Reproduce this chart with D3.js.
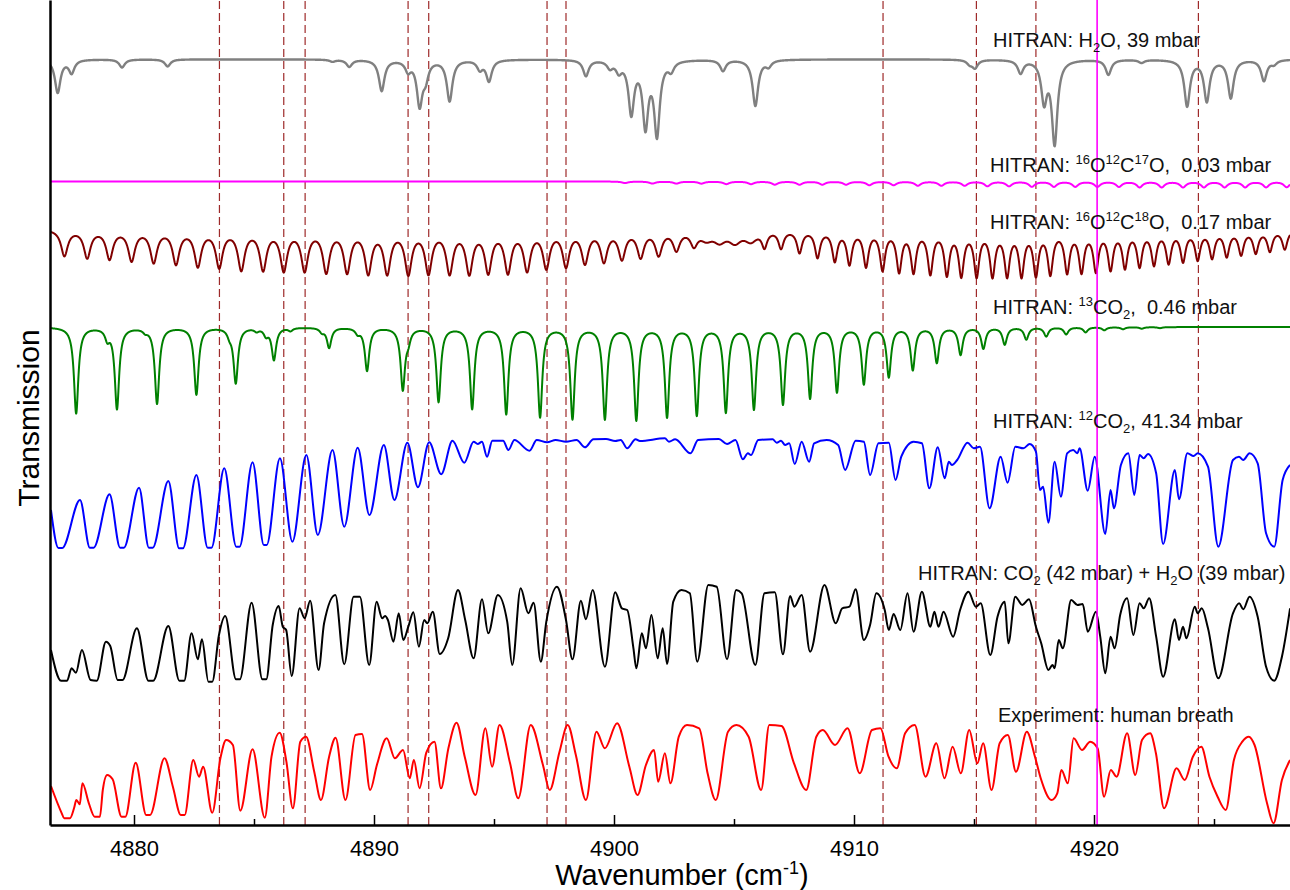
<!DOCTYPE html>
<html>
<head>
<meta charset="utf-8">
<script src="https://cdn.jsdelivr.net/npm/d3@7"></script>
<style>
  body { margin: 0; background: #fff; }
  svg { display: block; font-family: "Liberation Sans", Arial, sans-serif; }
</style>
</head>
<body>
<div id="chart"></div>
<script>
// x axis (wavenumber, cm-1)
const xDomain = [4876.5, 4928.1667];
const xTicks = [4880, 4890, 4900, 4910, 4920];
const xMinorTicks = [4885, 4895, 4905, 4915, 4925];

// marked lines
const dashedLines = [4883.56, 4886.24, 4887.13, 4891.42, 4892.28, 4897.21, 4898.00, 4911.21, 4915.10, 4917.58, 4924.35];
const markerLine = 4920.13;

// HITRAN line lists: [centre, depth, half width] (transmission, offset units)
const h2oTop = 76.57;
const h2oLines = [[4876.82,3.3],[4877.40,1.3],[4879.50,0.8],[4881.40,0.7],[4888.27,0.2],[4888.97,0.7],[4890.32,3.1],[4891.42,1.0],[4891.90,4.4],[4892.15,1.6],[4893.15,4.1],[4894.41,0.9],[4894.79,2.1],[4898.83,1.6],[4899.83,0.7],[4900.20,1.0],[4900.72,5.2],[4901.31,6.4],[4901.79,7.3],[4902.38,0.9],[4904.54,1.1],[4905.89,4.6],[4906.44,0.6],[4914.82,0.4],[4915.04,0.8],[4916.94,1.3],[4917.92,4.0],[4918.36,8.3],[4920.60,1.5],[4921.98,0.3],[4923.88,4.6],[4924.70,4.1],[4925.70,3.8],[4927.08,2.1],[4927.50,0.4]];

const o17Top = 64.35;
const o17Lines = [[4900.46,0.15],[4901.60,0.2],[4902.60,0.2],[4903.64,0.2],[4904.68,0.25],[4905.71,0.25],[4906.70,0.3],[4907.73,0.3],[4908.68,0.3],[4909.67,0.3],[4910.64,0.35],[4911.65,0.35],[4912.66,0.4],[4913.64,0.4],[4914.61,0.4],[4915.56,0.45],[4916.46,0.45],[4917.41,0.5],[4918.33,0.5],[4919.22,0.5],[4920.14,0.5],[4921.04,0.5],[4921.90,0.55],[4922.82,0.55],[4923.71,0.55],[4924.58,0.55],[4925.44,0.55],[4926.30,0.55],[4927.17,0.55],[4928.03,0.55]];

const o18Top = 59.6;
const o18Lines = [[4877.10,2.59,0.17],[4878.05,2.74,0.17],[4878.98,2.84,0.17],[4879.90,2.99,0.17],[4880.82,3.14,0.17],[4881.75,3.29,0.17],[4882.66,3.50,0.17],[4883.55,3.60,0.17],[4884.47,3.84,0.17],[4885.38,3.84,0.17],[4886.24,3.91,0.17],[4887.11,3.91,0.17],[4888.01,4.05,0.17],[4888.88,4.05,0.17],[4889.76,4.14,0.17],[4890.55,4.14,0.17],[4891.43,4.21,0.17],[4892.27,4.14,0.17],[4893.15,4.14,0.17],[4893.97,4.14,0.17],[4894.76,4.05,0.17],[4895.58,4.05,0.17],[4896.38,3.84,0.17],[4897.18,3.60,0.17],[4898.00,3.45,0.17],[4898.79,3.14,0.17],[4899.58,2.99,0.17],[4900.33,2.74,0.17],[4901.11,2.59,0.17],[4901.86,2.38,0.17],[4902.60,1.9,0.17],[4903.33,1.4,0.17],[4903.85,0.8,0.3],[4904.40,1.0,0.3],[4905.04,1.1,0.3],[4905.70,1.0,0.3],
  [4906.27,1.55,0.13],[4906.96,1.73,0.13],[4907.73,2.18,0.13],[4908.48,2.64,0.13],[4909.20,2.97,0.13],[4909.81,3.27,0.13],[4910.50,3.48,0.13],[4911.19,3.82,0.13],[4911.88,3.97,0.13],[4912.48,4.03,0.13],[4913.18,4.18,0.13],[4913.87,4.27,0.13],[4914.47,4.34,0.13],[4915.11,4.39,0.13],[4915.77,4.39,0.13],[4916.38,4.34,0.13],[4916.98,4.34,0.13],[4917.58,4.27,0.13],[4918.18,4.18,0.13],[4918.88,4.03,0.13],[4919.48,3.97,0.13],[4920.08,3.88,0.13],[4920.69,3.73,0.13],[4921.29,3.57,0.13],[4921.90,3.43,0.13],[4922.50,3.27,0.13],[4923.11,3.12,0.13],[4923.71,2.97,0.13],[4924.32,2.82,0.13],[4924.92,2.66,0.13],[4925.53,2.52,0.13],[4926.13,2.36,0.13],[4926.74,2.21,0.13],[4927.33,2.06,0.13],[4927.95,1.91,0.13]];

const c13Top = 49.8;
const c13Lines = [[4877.59,8.6],[4879.29,8.1],[4880.96,7.6],[4882.60,6.7],[4884.24,5.5],[4885.83,3.2],[4888.13,2.0],[4889.71,4.3],[4891.20,6.1],[4892.69,7.4],[4894.09,8.1],[4895.51,8.6],[4896.92,8.9],[4898.27,9.1],[4899.62,9.1],[4900.93,9.2],[4902.21,8.9],[4903.45,8.7],[4904.66,8.4],[4905.83,8.1],[4907.04,7.6],[4908.17,7.0],[4909.29,6.4],[4910.41,5.6],[4911.45,4.9],[4912.45,4.2],[4913.45,3.5],[4914.44,2.7],[4915.39,2.1],[4916.28,1.7],[4917.18,1.2],[4918.01,0.9],[4918.84,0.7],[4919.65,0.5],[4920.43,0.3],[4921.21,0.2],[4921.99,0.15],[4922.75,0.1],
  [4878.89,1.0],[4880.47,0.3],[4883.98,0.6],[4885.11,0.3],[4885.50,0.7],[4886.52,0.3],[4887.83,0.4],[4889.32,0.5],[4891.43,1.0]];

// traced spectra: [wavenumber, transmission (offset units)]
const c12Spectrum = [[4876.54,31.5],[4876.85,27.7],[4877.01,27.7],[4877.75,32.5],[4878.16,27.73],[4878.32,27.73],[4878.98,33.07],[4879.42,27.73],[4879.58,27.73],[4880.21,33.73],[4880.62,27.73],[4880.78,27.73],[4881.43,34.4],[4881.88,27.67],[4882.04,27.67],[4882.60,35.0],[4883.07,27.73],[4883.23,27.73],[4883.76,35.67],[4884.26,27.83],[4884.40,27.83],[4884.94,36.27],[4885.41,28.0],[4885.53,28.0],[4886.08,36.67],[4886.60,28.33],[4887.18,37.0],[4887.66,29.0],[4888.27,37.5],[4888.76,29.83],[4889.32,37.73],[4889.81,31.0],[4890.41,38.0],[4890.85,32.5],[4891.39,38.23],[4891.83,33.77],[4892.30,38.27],[4892.80,35.07],[4893.27,38.43],[4893.76,36.23],[4894.15,38.33],[4894.32,38.1],[4894.50,38.33],[4894.71,36.83],[4894.93,38.43],[4895.38,38.43],[4895.60,37.5],[4895.85,38.5],[4896.48,37.43],[4896.78,38.5],[4897.21,38.27],[4897.57,38.5],[4898.00,38.33],[4898.44,38.5],[4898.79,37.77],[4899.14,38.57],[4899.67,38.6],[4900.05,38.4],[4900.28,38.5],[4900.55,37.67],[4900.90,38.57],[4901.08,38.4],[4902.12,38.67],[4902.29,38.33],[4902.55,38.57],[4903.19,37.17],[4903.50,38.5],[4904.37,38.6],[4904.71,38.1],[4905.06,38.5],[4905.37,36.57],[4905.58,37.17],[4905.71,37.0],[4906.01,38.5],[4906.61,38.57],[4906.78,38.23],[4906.96,38.43],[4907.13,38.0],[4907.30,38.17],[4907.53,36.1],[4907.82,38.33],[4908.13,36.33],[4908.34,38.17],[4908.86,38.5],[4909.34,38.0],[4909.63,35.5],[4910.07,38.43],[4910.41,38.33],[4910.67,35.0],[4911.02,38.17],[4911.45,38.23],[4911.73,34.5],[4911.97,36.83],[4912.48,38.33],[4912.83,38.17],[4913.14,33.67],[4913.49,37.77],[4913.78,34.67],[4913.95,36.33],[4914.08,36.0],[4914.30,36.5],[4914.73,38.23],[4914.99,37.67],[4915.25,37.83],[4915.65,31.67],[4916.11,36.83],[4916.40,34.23],[4916.72,37.83],[4917.06,37.67],[4917.32,38.1],[4917.58,37.33],[4917.75,33.5],[4917.88,33.83],[4918.10,30.23],[4918.36,36.33],[4918.62,32.83],[4918.88,37.17],[4919.13,37.5],[4919.31,37.17],[4919.40,37.67],[4919.74,33.43],[4920.03,36.83],[4920.47,29.1],[4920.69,33.5],[4920.83,31.67],[4921.12,36.0],[4921.43,37.17],[4921.68,33.0],[4921.90,37.0],[4922.07,36.67],[4922.25,37.1],[4922.59,35.17],[4922.88,28.1],[4923.37,35.5],[4923.54,32.57],[4923.89,37.17],[4924.15,36.9],[4924.32,37.17],[4924.75,35.83],[4925.18,27.83],[4925.79,36.5],[4926.04,36.83],[4926.22,36.5],[4926.48,37.17],[4926.82,36.17],[4927.17,29.17],[4927.51,27.83],[4927.86,34.5],[4928.17,36.0]];

const mixSpectrum = [[4876.54,17.5],[4876.96,14.43],[4877.21,14.43],[4877.40,15.67],[4877.58,15.23],[4877.83,17.5],[4878.19,14.5],[4878.45,14.43],[4878.83,18.33],[4879.01,17.9],[4879.32,14.5],[4879.52,14.5],[4880.12,19.67],[4880.60,14.43],[4880.80,14.43],[4881.43,19.9],[4881.89,14.43],[4882.09,14.43],[4882.40,19.17],[4882.66,16.57],[4882.83,18.57],[4883.10,14.33],[4883.26,14.33],[4883.54,19.0],[4883.80,20.9],[4884.25,14.57],[4884.41,14.57],[4884.90,22.23],[4885.35,14.57],[4885.51,14.57],[4885.78,20.0],[4886.03,21.9],[4886.20,19.83],[4886.34,19.5],[4886.57,14.9],[4886.90,21.67],[4887.11,20.67],[4887.34,22.43],[4887.69,15.5],[4887.92,20.17],[4888.39,23.0],[4888.76,16.07],[4889.15,22.83],[4889.41,22.83],[4889.80,16.0],[4890.11,22.33],[4890.34,20.67],[4890.46,20.9],[4890.58,20.5],[4890.81,18.33],[4891.03,21.17],[4891.22,18.5],[4891.43,19.83],[4891.64,21.27],[4891.87,17.83],[4892.09,20.5],[4892.22,20.17],[4892.45,21.33],[4892.74,17.1],[4893.09,18.67],[4893.50,23.5],[4893.80,20.5],[4894.15,16.67],[4894.50,22.57],[4894.76,19.17],[4895.16,23.0],[4895.55,20.33],[4895.76,16.0],[4896.11,23.67],[4896.43,21.17],[4896.65,22.23],[4896.95,16.33],[4897.18,20.33],[4897.62,23.83],[4898.00,20.5],[4898.27,16.57],[4898.62,22.43],[4898.83,20.57],[4899.11,23.5],[4899.62,15.83],[4900.05,23.27],[4900.33,21.67],[4900.55,21.5],[4900.81,17.67],[4900.93,15.67],[4901.16,19.17],[4901.33,17.67],[4901.56,21.0],[4901.82,16.67],[4902.03,19.67],[4902.21,16.1],[4902.47,22.33],[4902.81,23.5],[4903.16,23.17],[4903.47,16.33],[4903.93,24.0],[4904.28,23.83],[4904.71,16.57],[4905.09,23.5],[4905.32,23.17],[4905.89,16.0],[4906.27,23.17],[4906.70,23.27],[4907.04,17.07],[4907.34,22.9],[4907.51,21.83],[4907.82,23.0],[4908.17,17.33],[4908.77,24.0],[4909.24,20.17],[4909.51,21.67],[4909.81,21.83],[4910.07,23.57],[4910.41,18.5],[4910.67,20.0],[4910.93,23.17],[4911.28,21.5],[4911.45,19.5],[4911.65,21.1],[4911.93,19.5],[4912.23,23.17],[4912.48,19.33],[4912.83,23.33],[4913.18,19.83],[4913.35,21.33],[4913.52,19.83],[4913.73,21.33],[4914.13,18.83],[4914.42,21.5],[4914.77,23.33],[4915.08,21.83],[4915.28,22.17],[4915.68,17.0],[4915.98,20.83],[4916.28,22.33],[4916.43,18.17],[4916.72,22.83],[4917.01,22.0],[4917.29,22.57],[4917.58,19.83],[4917.80,18.17],[4918.10,15.5],[4918.27,16.0],[4918.36,15.67],[4918.53,18.5],[4918.70,17.67],[4919.05,22.5],[4919.31,22.0],[4919.53,22.1],[4919.74,19.33],[4920.08,21.33],[4920.26,18.83],[4920.47,15.17],[4920.69,18.83],[4920.86,17.67],[4921.09,21.0],[4921.38,22.67],[4921.64,19.0],[4921.90,22.17],[4922.07,21.67],[4922.30,22.67],[4922.59,18.83],[4922.88,14.83],[4923.37,20.57],[4923.54,18.5],[4923.71,19.83],[4923.85,18.67],[4924.20,21.83],[4924.32,21.17],[4924.49,21.67],[4924.75,19.67],[4925.18,14.67],[4925.79,21.17],[4926.05,22.17],[4926.22,21.57],[4926.48,22.83],[4926.82,20.83],[4927.17,15.83],[4927.51,14.43],[4927.83,16.83],[4928.17,21.67]];

const breathSpectrum = [[4876.54,3.9],[4876.99,1.17],[4877.09,0.67],[4877.33,0.67],[4877.50,1.67],[4877.60,2.5],[4877.74,2.07],[4877.85,4.17],[4878.12,2.17],[4878.36,0.83],[4878.58,0.83],[4878.70,3.5],[4878.88,5.0],[4879.11,4.57],[4879.48,0.83],[4879.64,0.83],[4880.07,6.23],[4880.51,1.0],[4880.67,1.0],[4881.27,6.67],[4881.62,3.83],[4881.95,1.0],[4882.11,1.0],[4882.47,6.5],[4882.71,4.83],[4882.88,5.83],[4883.26,1.23],[4883.60,6.67],[4883.84,8.5],[4884.12,8.0],[4884.43,1.43],[4884.94,7.57],[4885.45,0.73],[4885.73,6.83],[4886.07,9.23],[4886.35,6.33],[4886.62,1.67],[4886.93,8.33],[4887.17,8.83],[4887.51,5.33],[4887.79,2.5],[4888.13,6.83],[4888.40,8.73],[4888.81,2.5],[4889.23,9.0],[4889.50,9.1],[4889.84,3.5],[4890.12,6.0],[4890.53,8.67],[4890.87,6.67],[4891.21,7.5],[4891.49,4.67],[4891.66,6.5],[4891.90,3.67],[4892.18,7.23],[4892.52,8.33],[4892.79,3.67],[4893.10,7.67],[4893.44,10.23],[4893.78,6.83],[4894.23,3.0],[4894.64,9.67],[4894.92,5.83],[4895.23,10.0],[4895.67,6.17],[4896.01,2.67],[4896.53,10.0],[4897.04,6.0],[4897.32,3.5],[4897.73,7.33],[4898.07,10.0],[4898.41,7.0],[4898.83,2.5],[4899.27,9.33],[4899.62,7.67],[4900.13,10.17],[4900.64,5.83],[4900.98,3.0],[4901.33,6.0],[4901.67,7.5],[4901.84,4.33],[4902.12,7.17],[4902.35,4.17],[4902.70,8.83],[4903.04,10.0],[4903.55,9.67],[4903.90,5.17],[4904.24,2.5],[4904.75,9.33],[4905.10,10.0],[4905.61,8.83],[4906.13,3.5],[4906.47,10.0],[4906.98,9.9],[4907.50,6.17],[4908.01,3.5],[4908.43,8.83],[4908.70,9.5],[4909.21,8.0],[4909.73,9.67],[4910.24,5.17],[4910.75,9.5],[4911.10,9.67],[4911.44,6.83],[4911.78,5.67],[4912.13,9.17],[4912.53,10.0],[4912.98,4.83],[4913.43,8.17],[4913.77,4.67],[4914.11,7.83],[4914.45,5.17],[4914.80,9.5],[4915.14,6.17],[4915.38,8.17],[4915.73,3.5],[4916.07,8.17],[4916.41,9.0],[4916.75,5.33],[4917.20,9.33],[4917.54,6.83],[4917.78,4.67],[4918.23,2.5],[4918.47,3.17],[4918.64,5.5],[4918.91,4.17],[4919.15,8.67],[4919.50,7.5],[4919.84,8.33],[4920.15,7.67],[4920.42,2.83],[4920.70,5.5],[4920.94,4.83],[4921.38,9.17],[4921.72,5.0],[4922.00,8.5],[4922.34,9.17],[4922.58,7.17],[4922.92,1.67],[4923.44,5.67],[4923.78,4.5],[4924.12,6.83],[4924.47,7.83],[4924.81,4.83],[4925.15,2.83],[4925.49,1.5],[4925.83,6.5],[4926.18,8.33],[4926.45,8.83],[4926.69,8.0],[4927.21,2.17],[4927.48,0.17],[4927.83,4.5],[4928.17,6.5]];

const labels = [
  {x: 993, y: 47, parts: [["HITRAN: H"], ["2", "sub"], ["O, 39 mbar"]]},
  {x: 990, y: 172, parts: [["HITRAN: "], ["16", "sup"], ["O"], ["12", "sup"], ["C"], ["17", "sup"], ["O,  0.03 mbar"]]},
  {x: 990, y: 229, parts: [["HITRAN: "], ["16", "sup"], ["O"], ["12", "sup"], ["C"], ["18", "sup"], ["O,  0.17 mbar"]]},
  {x: 993, y: 314, parts: [["HITRAN: "], ["13", "sup"], ["CO"], ["2", "sub"], [",  0.46 mbar"]]},
  {x: 993, y: 428, parts: [["HITRAN: "], ["12", "sup"], ["CO"], ["2", "sub"], [", 41.34 mbar"]]},
  {x: 918, y: 580, parts: [["HITRAN: CO"], ["2", "sub"], [" (42 mbar) + H"], ["2", "sub"], ["O (39 mbar)"]]},
  {x: 998, y: 722, parts: [["Experiment: human breath"]]}
];

const width = 1290, height = 890;
const margin = {top: 0, right: 0, bottom: 65, left: 50};

const x = d3.scaleLinear().domain(xDomain).range([margin.left, width - margin.right]);
const y = d3.scaleLinear().domain([0, 82.5]).range([height - margin.bottom, margin.top]);

// Lorentzian line sum on a fine wavenumber grid
function lineSpectrum(top, lines, hw) {
  const pts = [];
  const n = Math.round((xDomain[1] - xDomain[0]) / 0.01);
  for (let i = 0; i <= n; i++) {
    const v = xDomain[0] + i * 0.01;
    let t = top;
    for (const [c, d, w] of lines) {
      const u = (v - c) / (w || hw);
      t -= d / (1 + u * u);
    }
    pts.push([v, t]);
  }
  return pts;
}

const svg = d3.select("#chart").append("svg")
  .attr("width", width)
  .attr("height", height);

svg.append("clipPath").attr("id", "plot-clip")
  .append("rect")
  .attr("x", margin.left).attr("y", 0)
  .attr("width", width - margin.left - margin.right)
  .attr("height", height - margin.bottom);

const plot = svg.append("g").attr("clip-path", "url(#plot-clip)");

// dashed marker lines
plot.selectAll("line.marker")
  .data(dashedLines)
  .join("line")
  .attr("class", "marker")
  .attr("x1", d => x(d)).attr("x2", d => x(d))
  .attr("y1", y.range()[0]).attr("y2", y.range()[1])
  .attr("stroke", "#9e2a2a")
  .attr("stroke-width", 1.2)
  .attr("stroke-dasharray", "8,4");

const lineGen = d3.line().x(d => x(d[0])).y(d => y(d[1]));
const tracedGen = d3.line().x(d => x(d[0])).y(d => y(d[1])).curve(d3.curveMonotoneX);

const traces = [
  {data: lineSpectrum(h2oTop, h2oLines, 0.14), color: "#808080", w: 2.4, gen: lineGen},
  {data: lineSpectrum(o17Top, o17Lines, 0.15), color: "#ff00ff", w: 2, gen: lineGen},
  {data: lineSpectrum(o18Top, o18Lines, 0.15), color: "#800000", w: 2, gen: lineGen},
  {data: lineSpectrum(c13Top, c13Lines, 0.11), color: "#008000", w: 2, gen: lineGen},
  {data: c12Spectrum, color: "#0000ff", w: 2, gen: tracedGen},
  {data: mixSpectrum, color: "#000000", w: 2, gen: tracedGen},
  {data: breathSpectrum, color: "#ff0000", w: 2, gen: tracedGen}
];

plot.selectAll("path.trace")
  .data(traces)
  .join("path")
  .attr("class", "trace")
  .attr("fill", "none")
  .attr("stroke", d => d.color)
  .attr("stroke-width", d => d.w)
  .attr("stroke-linejoin", "round")
  .attr("d", d => d.gen(d.data));

// magenta marker
plot.append("line")
  .attr("x1", x(markerLine)).attr("x2", x(markerLine))
  .attr("y1", y.range()[0]).attr("y2", y.range()[1])
  .attr("stroke", "#ff00ff")
  .attr("stroke-width", 1.6);

// labels
labels.forEach(l => {
  const t = svg.append("text")
    .attr("x", l.x).attr("y", l.y)
    .attr("font-size", 20)
    .attr("fill", "#111")
    .style("white-space", "pre");
  let shift = 0;
  l.parts.forEach(([s, k]) => {
    const target = k === "sup" ? -8 : k === "sub" ? 5 : 0;
    t.append("tspan")
      .attr("dy", target - shift)
      .attr("font-size", k ? 13 : 20)
      .text(s);
    shift = target;
  });
});

// bottom axis
const xAxis = svg.append("g")
  .attr("transform", `translate(0,${height - margin.bottom})`)
  .call(d3.axisBottom(x).tickValues(xTicks).tickSize(-10).tickSizeOuter(0).tickPadding(15).tickFormat(d3.format("d")));
xAxis.select(".domain").attr("stroke-width", 2.5);
xAxis.selectAll(".tick line").attr("stroke-width", 1.5);
xAxis.selectAll(".tick text").attr("font-size", 22).attr("fill", "#000")
  .style("font-family", "\"Liberation Sans\", Arial, sans-serif");

svg.append("g")
  .attr("transform", `translate(0,${height - margin.bottom})`)
  .call(d3.axisBottom(x).tickValues(xMinorTicks).tickSize(-6).tickSizeOuter(0).tickFormat(""))
  .call(g => g.select(".domain").remove())
  .selectAll(".tick line").attr("stroke-width", 1.5);

// left axis
svg.append("g")
  .attr("transform", `translate(${margin.left},0)`)
  .call(d3.axisLeft(y).tickValues([]).tickSizeOuter(0))
  .select(".domain").attr("stroke-width", 2.5);

// axis titles
const title = svg.append("text")
  .attr("x", 682).attr("y", 885)
  .attr("text-anchor", "middle")
  .attr("font-size", 29);
title.append("tspan").text("Wavenumber (cm");
title.append("tspan").attr("dy", -11).attr("font-size", 18).text("-1");
title.append("tspan").attr("dy", 11).text(")");

svg.append("text")
  .attr("transform", "translate(39,418) rotate(-90)")
  .attr("text-anchor", "middle")
  .attr("font-size", 30)
  .text("Transmission");
</script>
</body>
</html>
